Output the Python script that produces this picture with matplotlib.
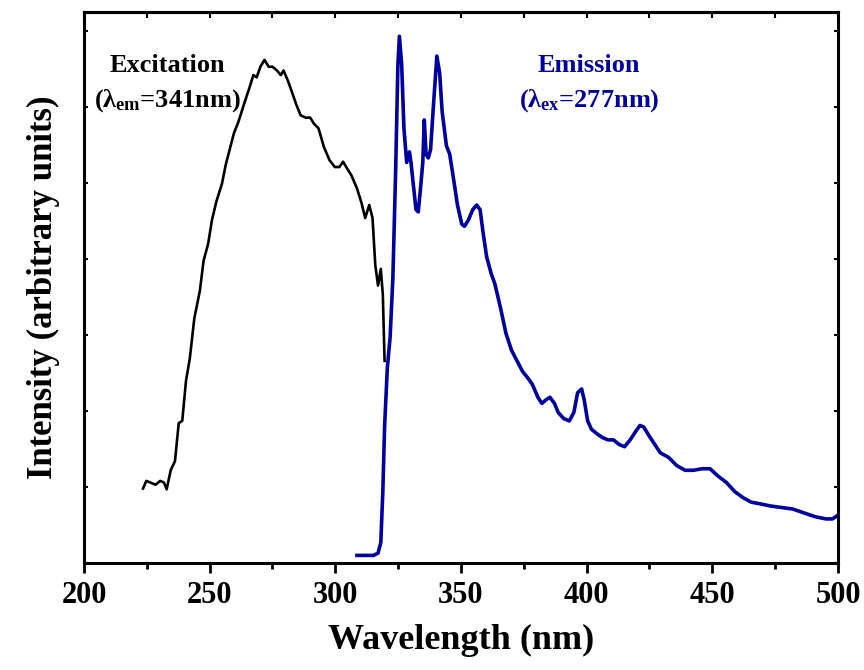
import numpy as np
import matplotlib
matplotlib.use('Agg')
import matplotlib.pyplot as plt
from matplotlib.ticker import MultipleLocator, NullFormatter

# 激发谱 (λem = 341 nm)
exc_nm = [223.5, 224.8, 226.3, 228.5, 230.3, 231.8, 232.9, 234.5, 236.2, 237.7,
          239.1, 240.6, 242.1, 243.9, 246.1, 247.6, 249.4, 250.9, 252.7, 254.9,
          256.4, 258.2, 259.7, 261.4, 263.6, 265.8, 267.4, 268.7, 270.2, 271.8,
          273.5, 275.0, 276.8, 278.3, 279.4, 281.2, 282.7, 284.5, 286.2, 288.2,
          290.0, 291.5, 293.3, 295.5, 297.7, 299.8, 301.6, 303.1, 304.7, 306.4,
          308.6, 310.4, 311.9, 313.5, 314.8, 315.9, 317.0, 318.1, 318.9, 319.6]
exc_int = [0.98, 1.08, 1.06, 1.03, 1.08, 1.06, 0.97, 1.22, 1.34, 1.84,
           1.87, 2.40, 2.69, 3.22, 3.58, 3.98, 4.20, 4.51, 4.76, 4.99,
           5.24, 5.47, 5.66, 5.80, 6.03, 6.25, 6.42, 6.39, 6.53, 6.62,
           6.53, 6.53, 6.48, 6.42, 6.48, 6.34, 6.20, 6.03, 5.89, 5.86,
           5.86, 5.78, 5.72, 5.47, 5.30, 5.21, 5.21, 5.28, 5.19, 5.10,
           4.93, 4.74, 4.54, 4.71, 4.54, 3.92, 3.65, 3.87, 3.53, 2.66]

# 发射谱 (λex = 277 nm)
emi_nm = [308.6, 311.9, 315.2, 317.0, 318.1, 318.9, 319.6, 320.7, 321.8, 322.9,
          324.0, 324.9, 325.5, 326.4, 327.3, 328.4, 329.5, 330.1, 331.0, 332.1,
          333.0, 333.9, 334.8, 335.4, 336.1, 337.0, 337.9, 339.0, 340.4, 341.5,
          342.5, 344.2, 345.5, 347.1, 348.6, 350.3, 351.4, 352.9, 354.7, 356.2,
          357.6, 358.7, 360.2, 362.0, 363.5, 365.7, 367.9, 370.1, 372.3, 374.5,
          376.7, 378.4, 380.6, 382.2, 383.9, 385.4, 387.2, 388.7, 390.9, 393.1,
          394.9, 396.4, 398.0, 399.0, 400.4, 401.9, 404.1, 406.3, 408.5, 410.7,
          412.9, 415.1, 417.3, 419.5, 421.2, 422.7, 424.9, 427.1, 429.3, 432.6,
          435.9, 439.2, 442.5, 445.8, 449.1, 452.4, 455.6, 458.9, 462.2, 465.5,
          468.8, 473.2, 477.6, 482.0, 486.4, 490.8, 495.2, 497.8, 500.0]
emi_int = [0.10, 0.10, 0.10, 0.13, 0.27, 0.94, 1.79, 2.57, 2.97, 3.75,
           5.16, 6.56, 6.93, 6.56, 5.72, 5.27, 5.41, 5.27, 4.99, 4.65,
           4.62, 4.93, 5.27, 5.83, 5.38, 5.33, 5.44, 6.00, 6.67, 6.45,
           5.94, 5.49, 5.38, 5.04, 4.71, 4.46, 4.43, 4.51, 4.65, 4.71,
           4.65, 4.37, 4.03, 3.81, 3.67, 3.36, 3.02, 2.80, 2.66, 2.52,
           2.43, 2.35, 2.18, 2.10, 2.15, 2.18, 2.10, 1.98, 1.90, 1.87,
           1.98, 2.24, 2.29, 2.15, 1.87, 1.76, 1.70, 1.65, 1.62, 1.62,
           1.56, 1.53, 1.62, 1.73, 1.81, 1.79, 1.67, 1.56, 1.45, 1.39,
           1.28, 1.22, 1.22, 1.24, 1.24, 1.14, 1.06, 0.94, 0.86, 0.80,
           0.78, 0.75, 0.73, 0.71, 0.66, 0.61, 0.58, 0.58, 0.63]

blue = '#0000A0'

plt.rcParams['font.family'] = 'Liberation Serif'
plt.rcParams['font.weight'] = 'bold'
plt.rcParams['mathtext.fontset'] = 'custom'
plt.rcParams['mathtext.rm'] = 'Liberation Serif:bold'
plt.rcParams['mathtext.it'] = 'Liberation Serif:bold'
plt.rcParams['mathtext.bf'] = 'Liberation Serif:bold'

fig = plt.figure(figsize=(8.64, 6.70), dpi=100)
ax = fig.add_axes([0.0972, 0.1597, 0.8727, 0.8224])

ax.plot(exc_nm, exc_int, color='black', lw=1.9)
ax.plot(emi_nm, emi_int, color=blue, lw=2.6)

ax.set_xlim(200, 500)
ax.set_ylim(0, 7.25)
ax.xaxis.set_major_locator(MultipleLocator(50))
ax.xaxis.set_minor_locator(MultipleLocator(25))
ax.yaxis.set_major_locator(MultipleLocator(1))
ax.yaxis.set_major_formatter(NullFormatter())

ax.tick_params(axis='x', which='major', direction='out', length=7, width=2,
               labelsize=22, pad=6)
ax.tick_params(axis='x', which='minor', direction='out', length=4, width=2)
ax.tick_params(axis='y', which='major', direction='in', length=3, width=1.5,
               right=True)

# 顶部内向小刻度
top = ax.secondary_xaxis('top')
top.xaxis.set_major_locator(MultipleLocator(25))
top.xaxis.set_major_formatter(NullFormatter())
top.tick_params(direction='in', length=4, width=1.5)
top.spines['top'].set_linewidth(2.2)

for sp in ax.spines.values():
    sp.set_linewidth(2.2)

ax.set_xlabel('Wavelength (nm)', fontsize=26, fontweight='bold', labelpad=10)
ax.set_ylabel('Intensity (arbitrary units)', fontsize=25, fontweight='bold',
              labelpad=14)

ax.text(233, 6.55, 'Excitation', fontsize=19, fontweight='bold',
        ha='center', va='center', color='black')
ax.text(233, 6.08, r'($\lambda_{\rm em}$=341nm)', fontsize=19,
        ha='center', va='center', color='black')
ax.text(401, 6.55, 'Emission', fontsize=19, fontweight='bold',
        ha='center', va='center', color=blue)
ax.text(401, 6.08, r'($\lambda_{\rm ex}$=277nm)', fontsize=19,
        ha='center', va='center', color=blue)

fig.savefig('out.png', dpi=100)
